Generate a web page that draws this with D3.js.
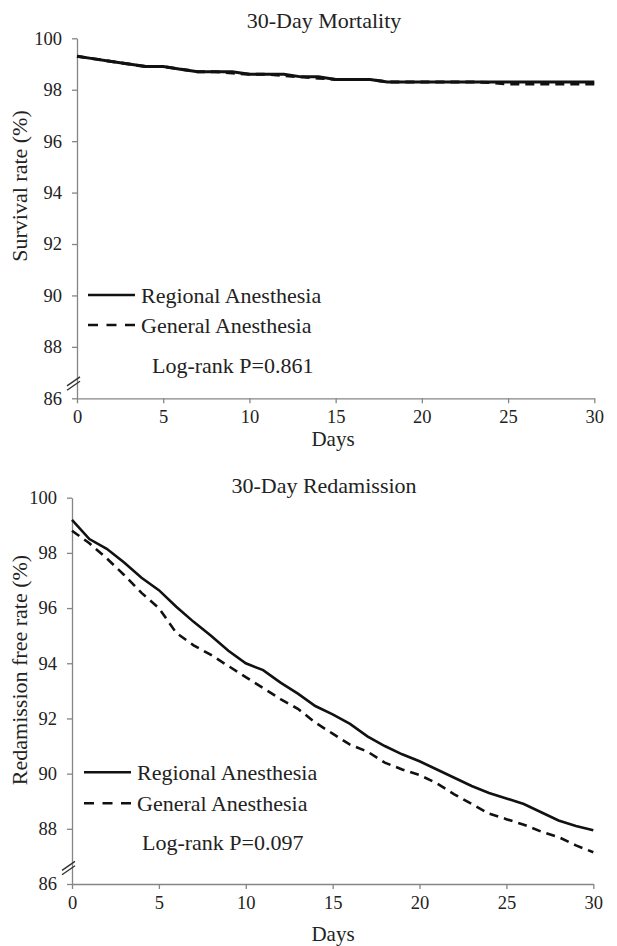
<!DOCTYPE html>
<html>
<head>
<meta charset="utf-8">
<script src="https://cdn.jsdelivr.net/npm/d3@7/dist/d3.min.js"></script>
<style>
  html, body { margin: 0; padding: 0; background: #fff; }
  svg { display: block; }
  text { font-family: "Liberation Serif", "Times New Roman", serif; fill: #222; }
</style>
</head>
<body>
<svg id="chart" width="617" height="946"></svg>
<script>
// ---- Data ----
const days = d3.range(0, 31);
const xTicks = [0, 5, 10, 15, 20, 25, 30];
const yTicks = [86, 88, 90, 92, 94, 96, 98, 100];
const seriesNames = ["Regional Anesthesia", "General Anesthesia"];

const mortalityRegional = [99.3, 99.2, 99.1, 99.0, 98.9, 98.9, 98.8, 98.7, 98.7, 98.7,
  98.6, 98.6, 98.6, 98.5, 98.5, 98.4, 98.4, 98.4, 98.3, 98.3,
  98.3, 98.3, 98.3, 98.3, 98.3, 98.3, 98.3, 98.3, 98.3, 98.3, 98.3];
const mortalityGeneral = [99.3, 99.2, 99.1, 99.0, 98.9, 98.9, 98.8, 98.7, 98.7, 98.65,
  98.6, 98.6, 98.55, 98.5, 98.45, 98.4, 98.4, 98.4, 98.3, 98.3,
  98.3, 98.3, 98.3, 98.3, 98.28, 98.22, 98.22, 98.22, 98.22, 98.22, 98.22];

const readmitRegional = [99.2, 98.5, 98.15, 97.65, 97.1, 96.65, 96.05, 95.5, 95.0, 94.45,
  94.0, 93.75, 93.3, 92.9, 92.45, 92.15, 91.8, 91.35, 91.0, 90.7,
  90.45, 90.15, 89.85, 89.55, 89.3, 89.1, 88.9, 88.6, 88.3, 88.1, 87.95];
const readmitGeneral = [98.8, 98.35, 97.8, 97.2, 96.55, 96.0, 95.1, 94.65, 94.3, 93.9,
  93.5, 93.1, 92.7, 92.35, 91.85, 91.45, 91.05, 90.8, 90.4, 90.15,
  89.95, 89.65, 89.25, 88.9, 88.55, 88.35, 88.15, 87.9, 87.7, 87.4, 87.15];

const panels = [
  { title: "30-Day Mortality", ylabel: "Survival rate (%)", pval: "Log-rank P=0.861",
    regional: mortalityRegional, general: mortalityGeneral,
    x0: 77, x1: 594.3, yTop: 38.3, yBot: 398.3, titleY: 28, ylabelY: 186, daysY: 446,
    legY: [295, 325], pY: 372.7, legX: 88, pX: 152, sw: 3 },
  { title: "30-Day Redamission", ylabel: "Redamission free rate (%)", pval: "Log-rank P=0.097",
    regional: readmitRegional, general: readmitGeneral,
    x0: 72, x1: 593.3, yTop: 497.7, yBot: 884, titleY: 492.5, ylabelY: 670, daysY: 941,
    legY: [772.3, 803.3], pY: 850, legX: 84, pX: 142, sw: 2.6 }
];

const svg = d3.select("#chart");
svg.append("rect").attr("width", 617).attr("height", 946).attr("fill", "#fff");

panels.forEach(p => {
  const g = svg.append("g");
  const x = d3.scaleLinear().domain([0, 30]).range([p.x0, p.x1]);
  const y = d3.scaleLinear().domain([86, 100]).range([p.yBot, p.yTop]);

  // axes
  const yAxis = g.append("g").attr("transform", `translate(${p.x0},0)`)
    .call(d3.axisLeft(y).tickValues(yTicks).tickSize(5).tickSizeOuter(0).tickPadding(10));
  const xAxis = g.append("g").attr("transform", `translate(0,${p.yBot})`)
    .call(d3.axisBottom(x).tickValues(xTicks).tickSize(5).tickSizeOuter(0).tickPadding(6.5));
  [xAxis, yAxis].forEach(a => {
    a.selectAll("path.domain").attr("stroke", "#858585").attr("stroke-width", 1.3);
    a.selectAll(".tick line").attr("stroke", "#858585").attr("stroke-width", 1.3);
    a.selectAll(".tick text").style("font-family", '"Liberation Serif", serif')
      .style("font-size", "18.5px").attr("fill", "#2a2a2a");
  });

  // axis break marks
  const by = y(86.65);
  [-2.2, 2.2].forEach(o => {
    g.append("line")
      .attr("x1", p.x0 - 10).attr("y1", by + o + 6.5)
      .attr("x2", p.x0 + 3).attr("y2", by + o - 2.5)
      .attr("stroke", "#333").attr("stroke-width", 1.4);
  });

  // lines
  const line = d3.line().x((d, i) => x(days[i])).y(d => y(d));
  g.append("path").datum(p.general).attr("d", line)
    .attr("fill", "none").attr("stroke", "#111").attr("stroke-width", p.sw)
    .attr("stroke-dasharray", "9,6");
  g.append("path").datum(p.regional).attr("d", line)
    .attr("fill", "none").attr("stroke", "#111").attr("stroke-width", p.sw);

  // title and labels
  g.append("text").attr("x", 324).attr("y", p.titleY).attr("text-anchor", "middle")
    .style("font-size", "22px").text(p.title);
  g.append("text").attr("transform", `translate(27,${p.ylabelY}) rotate(-90)`)
    .attr("text-anchor", "middle").style("font-size", "22px").text(p.ylabel);
  g.append("text").attr("x", 333).attr("y", p.daysY).attr("text-anchor", "middle")
    .style("font-size", "21px").text("Days");

  // legend
  const legLen = 47;
  g.append("line").attr("x1", p.legX).attr("x2", p.legX + legLen)
    .attr("y1", p.legY[0]).attr("y2", p.legY[0]).attr("stroke", "#111").attr("stroke-width", 2.6);
  g.append("line").attr("x1", p.legX).attr("x2", p.legX + legLen)
    .attr("y1", p.legY[1]).attr("y2", p.legY[1]).attr("stroke", "#111").attr("stroke-width", 2.6)
    .attr("stroke-dasharray", "10,8.5");
  seriesNames.forEach((n, i) => {
    g.append("text").attr("x", p.legX + legLen + 6).attr("y", p.legY[i] + 7.5)
      .style("font-size", "22px").text(n);
  });
  g.append("text").attr("x", p.pX).attr("y", p.pY).style("font-size", "22px").text(p.pval);
});
</script>
</body>
</html>
